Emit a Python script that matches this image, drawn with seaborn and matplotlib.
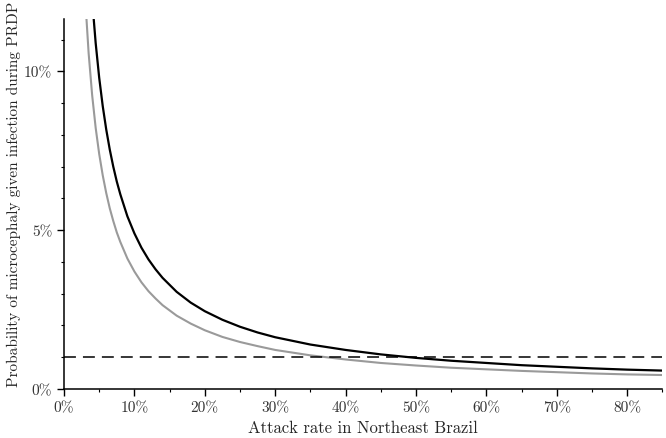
import numpy as np
import pandas as pd
import seaborn as sns
import matplotlib.pyplot as plt
import matplotlib.ticker as mticker

#======data (in %)======
attack_black = [4, 4.5, 5, 5.5, 6, 6.5, 7, 7.5, 8, 9, 10, 11, 12, 13, 14, 16, 18, 20, 22.5, 25, 27.5, 30, 35, 40, 45, 50, 55, 60, 65, 70, 75, 80, 85]
prob_black = [12.25, 10.89, 9.80, 8.91, 8.17, 7.54, 7.00, 6.53, 6.13, 5.44, 4.90, 4.45, 4.08, 3.77, 3.50, 3.06, 2.72, 2.45, 2.18, 1.96, 1.78, 1.63, 1.40, 1.23, 1.09, 0.98, 0.89, 0.82, 0.75, 0.70, 0.65, 0.61, 0.58]

attack_grey = [3, 3.5, 4, 4.5, 5, 5.5, 6, 6.5, 7, 7.5, 8, 9, 10, 11, 12, 13, 14, 16, 18, 20, 22.5, 25, 27.5, 30, 35, 40, 45, 50, 55, 60, 65, 70, 75, 80, 85]
prob_grey = [12.33, 10.57, 9.25, 8.22, 7.40, 6.73, 6.17, 5.69, 5.29, 4.93, 4.63, 4.11, 3.70, 3.36, 3.08, 2.85, 2.64, 2.31, 2.06, 1.85, 1.64, 1.48, 1.35, 1.23, 1.06, 0.93, 0.82, 0.74, 0.67, 0.62, 0.57, 0.53, 0.49, 0.46, 0.44]

threshold = 1.0

df_black = pd.DataFrame({'attack': attack_black, 'prob': prob_black})
df_grey = pd.DataFrame({'attack': attack_grey, 'prob': prob_grey})

#======style======
sns.set_style('ticks')
plt.rcParams['font.family'] = ['cmr10', 'DejaVu Serif']
plt.rcParams['axes.formatter.use_mathtext'] = True

fig = plt.figure(figsize=(6.66, 4.39), dpi=100)
ax = fig.add_axes([0.0961, 0.1116, 0.8985, 0.8428])

sns.lineplot(data=df_grey, x='attack', y='prob', color='#9a9a9a', linewidth=1.5, ax=ax, sort=False)
sns.lineplot(data=df_black, x='attack', y='prob', color='black', linewidth=1.6, ax=ax, sort=False)
thr = ax.axhline(threshold, color='black', linewidth=1.1)
thr.set_dashes([7.8, 4.6])

ax.set_xlim(0, 85)
ax.set_ylim(0, 11.65)
ax.xaxis.set_major_locator(mticker.MultipleLocator(10))
ax.xaxis.set_minor_locator(mticker.MultipleLocator(5))
ax.yaxis.set_major_locator(mticker.MultipleLocator(5))
ax.yaxis.set_minor_locator(mticker.MultipleLocator(1))
ax.xaxis.set_major_formatter(mticker.FuncFormatter(lambda v, p: f'{v:.0f}%'))
ax.yaxis.set_major_formatter(mticker.FuncFormatter(lambda v, p: f'{v:.0f}%'))
ax.tick_params(which='major', direction='out', length=5, width=1.0, labelsize=11, color='black', labelcolor='#333333')
ax.tick_params(which='minor', direction='out', length=2.5, width=0.8, color='black')

sns.despine(ax=ax)
for s in ['left', 'bottom']:
    ax.spines[s].set_linewidth(1.1)
    ax.spines[s].set_color('black')

ax.set_xlabel('Attack rate in Northeast Brazil', fontsize=12, labelpad=4)
ax.set_ylabel('Probability of microcephaly given infection during PRDP', fontsize=11)
ax.yaxis.set_label_coords(-0.072, 0.53)

fig.savefig('out.png', dpi=100)
